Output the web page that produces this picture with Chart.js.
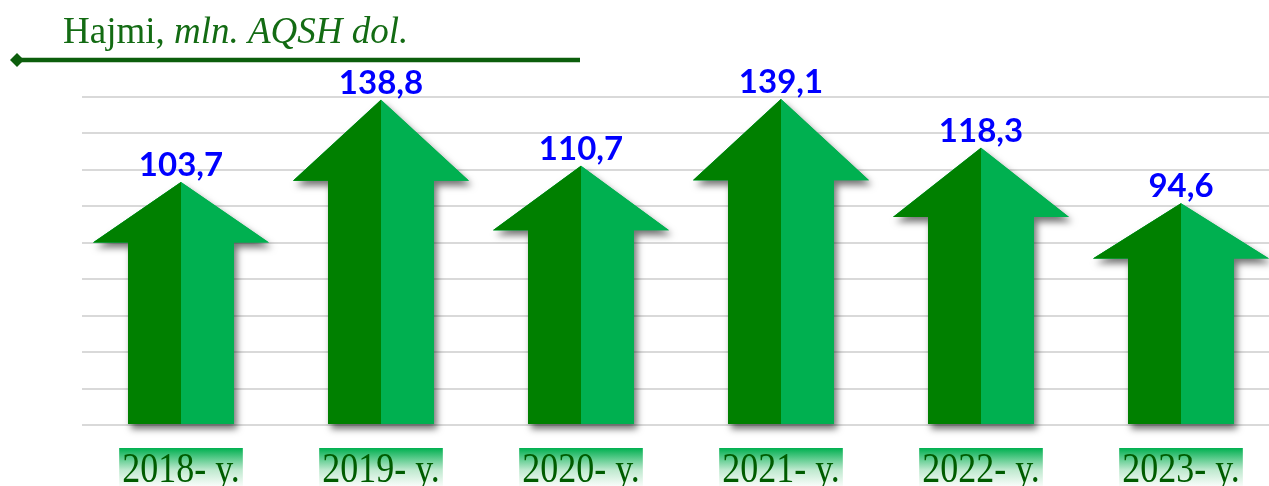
<!DOCTYPE html>
<html>
<head>
<meta charset="utf-8">
<script src="https://cdn.jsdelivr.net/npm/chart.js@4.4.1/dist/chart.umd.min.js"></script>
<style>
  html, body { margin: 0; padding: 0; background: #ffffff; overflow: hidden; }
  #wrap { position: relative; width: 1269px; height: 486px; }
  canvas { display: block; }
</style>
</head>
<body>
<div id="wrap"><canvas id="c" width="1269" height="486"></canvas></div>
<script>
// ---- data ----
const categories = ["2018- y.", "2019- y.", "2020- y.", "2021- y.", "2022- y.", "2023- y."];
const values = [103.7, 138.8, 110.7, 139.1, 118.3, 94.6];
const valueLabels = ["103,7", "138,8", "110,7", "139,1", "118,3", "94,6"];
const titleNormal = "Hajmi, ";
const titleItalic = "mln. AQSH dol.";
const yMax = 140;
const gridCount = 9;

// ---- styles ----
const DARK = "#008000";
const LIGHT = "#00B050";
const TITLE_COLOR = "#136b13";
const LINE_COLOR = "#0c5e0c";
const LABEL_COLOR = "#005c00";

const arrowPlugin = {
  id: "arrows",
  afterDatasetsDraw(chart) {
    const ctx = chart.ctx;
    const meta = chart.getDatasetMeta(0);
    const headHalf = 88, shaftHalf = 53;
    meta.data.forEach((bar, i) => {
      const cx = bar.x, tip = bar.y, base = bar.base;
      const H = base - tip;
      const wingY = tip + H * 0.25;
      const poly = () => {
        ctx.beginPath();
        ctx.moveTo(cx, tip);
        ctx.lineTo(cx + headHalf, wingY);
        ctx.lineTo(cx + shaftHalf, wingY);
        ctx.lineTo(cx + shaftHalf, base);
        ctx.lineTo(cx - shaftHalf, base);
        ctx.lineTo(cx - shaftHalf, wingY);
        ctx.lineTo(cx - headHalf, wingY);
        ctx.closePath();
      };
      // shadow
      ctx.save();
      ctx.shadowColor = "rgba(0,0,0,0.55)";
      ctx.shadowBlur = 7;
      ctx.shadowOffsetX = 3;
      ctx.shadowOffsetY = 5;
      ctx.fillStyle = LIGHT;
      poly();
      ctx.fill();
      ctx.restore();
      // halves
      ctx.save();
      ctx.fillStyle = LIGHT;
      poly();
      ctx.fill();
      poly();
      ctx.clip();
      ctx.fillStyle = DARK;
      ctx.fillRect(cx - headHalf - 2, tip - 2, headHalf + 2, H + 4);
      ctx.restore();
    });
    // value labels
    ctx.save();
    ctx.font = "bold 33px Lato, 'DejaVu Sans', sans-serif";
    ctx.fillStyle = "#0000FF";
    ctx.textAlign = "center";
    ctx.textBaseline = "alphabetic";
    meta.data.forEach((bar, i) => {
      ctx.fillText(valueLabels[i], bar.x, bar.y - 6);
    });
    ctx.restore();
  },
  afterDraw(chart) {
    const ctx = chart.ctx;
    const xs = chart.scales.x;
    // category labels with gradient boxes
    ctx.save();
    ctx.font = "36px 'Liberation Serif', 'Times New Roman', serif";
    ctx.textAlign = "left";
    ctx.textBaseline = "alphabetic";
    categories.forEach((lab, i) => {
      const cx = xs.getPixelForValue(i);
      const w = ctx.measureText(lab).width;
      const bx = cx - w / 2 - 3, bw = w + 6, by = 448, bh = 40;
      const g = ctx.createLinearGradient(0, by, 0, by + bh);
      g.addColorStop(0, "#00B050");
      g.addColorStop(0.55, "#bfe9cf");
      g.addColorStop(1, "#ffffff");
      ctx.fillStyle = g;
      ctx.fillRect(bx, by, bw, bh);
      ctx.save();
      ctx.translate(cx - w / 2, 482);
      ctx.scale(1, 1.15);
      ctx.fillStyle = LABEL_COLOR;
      ctx.fillText(lab, 0, 0);
      ctx.restore();
    });
    ctx.restore();
    // title
    ctx.save();
    ctx.textBaseline = "alphabetic";
    ctx.textAlign = "left";
    ctx.fillStyle = TITLE_COLOR;
    ctx.font = "37px 'Liberation Serif', 'Times New Roman', serif";
    ctx.fillText(titleNormal, 63, 43);
    const w1 = ctx.measureText(titleNormal).width;
    ctx.font = "italic 37px 'Liberation Serif', 'Times New Roman', serif";
    ctx.fillText(titleItalic, 63 + w1, 43);
    // line with diamond
    ctx.strokeStyle = LINE_COLOR;
    ctx.lineWidth = 4.5;
    ctx.beginPath();
    ctx.moveTo(18, 60);
    ctx.lineTo(580, 60);
    ctx.stroke();
    ctx.fillStyle = LINE_COLOR;
    ctx.beginPath();
    ctx.moveTo(10, 60);
    ctx.lineTo(17, 53);
    ctx.lineTo(24, 60);
    ctx.lineTo(17, 67);
    ctx.closePath();
    ctx.fill();
    ctx.restore();
  }
};

new Chart(document.getElementById("c"), {
  type: "bar",
  data: {
    datasets: [{
      data: categories.map((c, i) => ({ x: i, y: values[i] })),
      backgroundColor: "rgba(0,0,0,0)",
      borderWidth: 0
    }]
  },
  options: {
    responsive: false,
    animation: false,
    events: [],
    layout: { padding: { left: 82, top: 97, right: 0, bottom: 61 } },
    plugins: { legend: { display: false }, tooltip: { enabled: false }, title: { display: false } },
    scales: {
      x: {
        type: "linear",
        min: -0.495,
        max: 5.44,
        offset: false,
        display: false
      },
      y: {
        min: 0,
        max: yMax,
        afterBuildTicks: (s) => {
          const t = [];
          for (let k = 0; k <= gridCount; k++) t.push({ value: yMax * k / gridCount });
          s.ticks = t;
        },
        afterFit: (s) => { s.width = 0; },
        ticks: { display: false },
        border: { display: false },
        grid: { color: "#d9d9d9", lineWidth: 2, drawTicks: false }
      }
    }
  },
  plugins: [arrowPlugin]
});
</script>
</body>
</html>
